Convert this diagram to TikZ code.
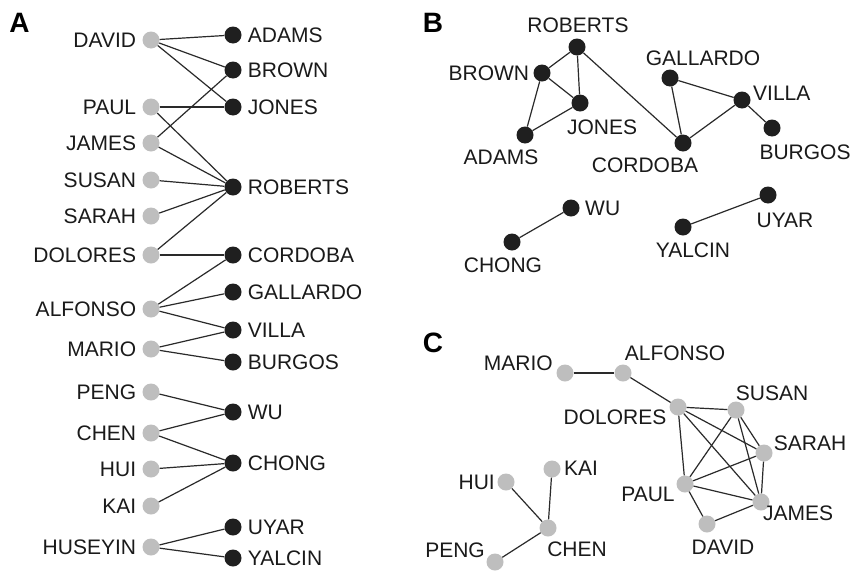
\documentclass[tikz,border=0pt]{standalone}
\usepackage{fontspec}
\setmainfont{Liberation Sans}
\begin{document}
\begin{tikzpicture}[x=1pt,y=-1pt,
  bnode/.style={circle,fill=nodeblack,minimum size=17pt,inner sep=0pt},
  gnode/.style={circle,fill=nodegray,minimum size=17pt,inner sep=0pt},
  lab/.style={inner sep=0pt,text height=15pt,text depth=0pt,font=\fontsize{21}{25}\selectfont,text=textblack},
  panel/.style={inner sep=0pt,font=\fontsize{28}{32}\selectfont\bfseries,text=black},
  edge/.style={draw=edgecol,line width=1.2pt}]
\definecolor{nodeblack}{HTML}{1F1F1F}
\definecolor{nodegray}{HTML}{BEBEBE}
\definecolor{edgecol}{HTML}{2A2A2A}
\definecolor{textblack}{HTML}{1A1A1A}
\useasboundingbox (0,0) rectangle (850,573);
\fill[white] (0,0) rectangle (850,573);

% ---------- Panel A ----------
\node[panel] (pA) at (19.5,23) {A};
\foreach \n/\y in {DAVID/40,PAUL/107,JAMES/143,SUSAN/180,SARAH/216,DOLORES/255,ALFONSO/309,MARIO/349,PENG/392,CHEN/433,HUI/469,KAI/506,HUSEYIN/547}{
  \node[gnode] (a\n) at (151,\y) {};
  \node[lab,anchor=east] (a\n l) at ([xshift=-6pt]a\n.west) {\n};
}
\foreach \n/\y in {ADAMS/35,BROWN/70,JONES/107,ROBERTS/187,CORDOBA/255,GALLARDO/292,VILLA/330,BURGOS/362,WU/412,CHONG/463,UYAR/527,YALCIN/558}{
  \node[bnode] (a\n) at (233,\y) {};
  \node[lab,anchor=west] (a\n l) at ([xshift=6pt]a\n.east) {\n};
}
\foreach \a/\b in {DAVID/ADAMS,DAVID/BROWN,DAVID/JONES,PAUL/JONES,PAUL/ROBERTS,JAMES/BROWN,JAMES/ROBERTS,SUSAN/ROBERTS,SARAH/ROBERTS,DOLORES/ROBERTS,DOLORES/CORDOBA,ALFONSO/CORDOBA,ALFONSO/GALLARDO,ALFONSO/VILLA,MARIO/VILLA,MARIO/BURGOS,PENG/WU,CHEN/WU,CHEN/CHONG,HUI/CHONG,KAI/CHONG,HUSEYIN/UYAR,HUSEYIN/YALCIN}{
  \draw[edge] (a\a) -- (a\b);
}

% ---------- Panel B ----------
\node[panel] (pB) at (433,23) {B};
\node[bnode] (bROBERTS) at (577,47) {};
\node[bnode] (bBROWN) at (542,73) {};
\node[bnode] (bJONES) at (580,103) {};
\node[bnode] (bADAMS) at (525,135) {};
\node[bnode] (bCORDOBA) at (683,143) {};
\node[bnode] (bGALLARDO) at (670,78) {};
\node[bnode] (bVILLA) at (742,100) {};
\node[bnode] (bBURGOS) at (772,128) {};
\node[bnode] (bWU) at (571,208) {};
\node[bnode] (bCHONG) at (512,242) {};
\node[bnode] (bUYAR) at (768,195) {};
\node[bnode] (bYALCIN) at (683,227) {};
\foreach \a/\b in {ROBERTS/BROWN,ROBERTS/JONES,ROBERTS/CORDOBA,BROWN/JONES,BROWN/ADAMS,ADAMS/JONES,GALLARDO/CORDOBA,GALLARDO/VILLA,VILLA/CORDOBA,VILLA/BURGOS,WU/CHONG,UYAR/YALCIN}{
  \draw[edge] (b\a) -- (b\b);
}
\node[lab] (bROBERTSl) at (578,25) {ROBERTS};
\node[lab,anchor=east] (bBROWNl) at ([xshift=-4pt]bBROWN.west) {BROWN};
\node[lab] (bJONESl) at (602,127) {JONES};
\node[lab] (bADAMSl) at (501,157) {ADAMS};
\node[lab] (bCORDOBAl) at (645,165) {CORDOBA};
\node[lab] (bGALLARDOl) at (703,58) {GALLARDO};
\node[lab,anchor=west] (bVILLAl) at (753,93) {VILLA};
\node[lab] (bBURGOSl) at (805,152) {BURGOS};
\node[lab,anchor=west] (bWUl) at (585,208) {WU};
\node[lab] (bCHONGl) at (503,265) {CHONG};
\node[lab] (bUYARl) at (785,220) {UYAR};
\node[lab] (bYALCINl) at (693,250) {YALCIN};

% ---------- Panel C ----------
\node[panel] (pC) at (433,343) {C};
\node[gnode] (cMARIO) at (565,373) {};
\node[gnode] (cALFONSO) at (623,373) {};
\node[gnode] (cDOLORES) at (678,407) {};
\node[gnode] (cSUSAN) at (736,410) {};
\node[gnode] (cSARAH) at (764,453) {};
\node[gnode] (cPAUL) at (685,484) {};
\node[gnode] (cJAMES) at (761,502) {};
\node[gnode] (cDAVID) at (707,524) {};
\node[gnode] (cKAI) at (552,469) {};
\node[gnode] (cHUI) at (506,482) {};
\node[gnode] (cCHEN) at (548,528) {};
\node[gnode] (cPENG) at (495,562) {};
\foreach \a/\b in {MARIO/ALFONSO,ALFONSO/DOLORES,DOLORES/SUSAN,DOLORES/SARAH,DOLORES/JAMES,DOLORES/PAUL,SUSAN/PAUL,SUSAN/SARAH,SUSAN/JAMES,SARAH/PAUL,SARAH/JAMES,PAUL/JAMES,PAUL/DAVID,DAVID/JAMES,HUI/CHEN,KAI/CHEN,PENG/CHEN}{
  \draw[edge] (c\a) -- (c\b);
}
\node[lab,anchor=east] (cMARIOl) at (553,363) {MARIO};
\node[lab] (cALFONSOl) at (675,353) {ALFONSO};
\node[lab] (cDOLORESl) at (615,417) {DOLORES};
\node[lab] (cSUSANl) at (772,393) {SUSAN};
\node[lab] (cSARAHl) at (810,443) {SARAH};
\node[lab] (cPAULl) at (648,494) {PAUL};
\node[lab] (cJAMESl) at (798,513) {JAMES};
\node[lab] (cDAVIDl) at (723,547) {DAVID};
\node[lab] (cKAIl) at (581,468) {KAI};
\node[lab,anchor=east] (cHUIl) at (495,482) {HUI};
\node[lab] (cCHENl) at (577,549) {CHEN};
\node[lab] (cPENGl) at (455,550) {PENG};
\end{tikzpicture}
\end{document}
